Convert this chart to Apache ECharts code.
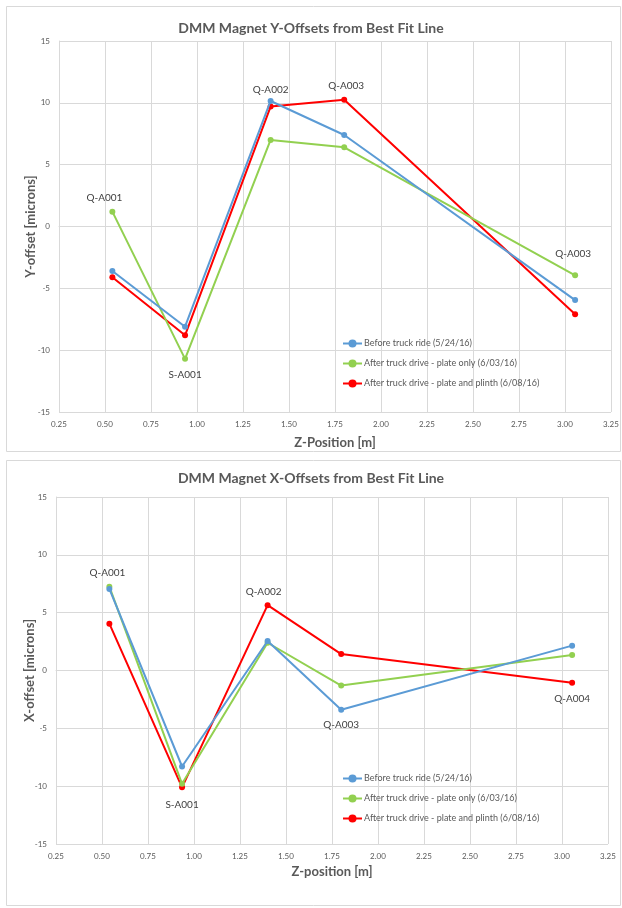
<!DOCTYPE html>
<html><head><meta charset="utf-8">
<script src="https://cdn.jsdelivr.net/npm/echarts@6/dist/echarts.min.js"></script>
<style>html,body{margin:0;padding:0;background:#fff}#c{width:622px;height:908px}</style>
</head><body><div id="c"></div>
<script>
// ---- data ----
const zPos = [0.54, 0.935, 1.40, 1.80, 3.055];
const seriesNames = ['Before truck ride (5/24/16)', 'After truck drive - plate only (6/03/16)', 'After truck drive - plate and plinth (6/08/16)'];
const yBefore = [-3.6, -8.1, 10.15, 7.4, -5.95];
const yPlate = [1.2, -10.7, 7.0, 6.4, -3.95];
const yPlinth = [-4.1, -8.8, 9.7, 10.25, -7.1];
const xBefore = [7.05, -8.3, 2.55, -3.4, 2.15];
const xPlate = [7.25, -9.8, 2.4, -1.3, 1.35];
const xPlinth = [4.05, -10.1, 5.65, 1.42, -1.05];
const yMagnetLabels = ['Q-A001', 'S-A001', 'Q-A002', 'Q-A003', 'Q-A003'];
const xMagnetLabels = ['Q-A001', 'S-A001', 'Q-A002', 'Q-A003', 'Q-A004'];
const xTicks = { min: 0.25, max: 3.25, step: 0.25 };
const yTicks = { min: -15, max: 15, step: 5 };

// ---- styling / annotation placement ----
const colors = ['#5B9BD5', '#92D050', '#FF0000'];
const FONT = 'Lato';
const TXT = '#595959';
// which series carries each magnet label: [seriesIndex, position, distance, dx]
const yLabelPlace = [[1, 'top', 6, -8], [1, 'bottom', 8, 0], [0, 'top', 3, 0], [2, 'top', 6, 2], [1, 'top', 14, -2]];
const xLabelPlace = [[1, 'top', 6, -2], [2, 'bottom', 9, 0], [2, 'top', 5, -4], [0, 'bottom', 7, 0], [2, 'bottom', 8, 0]];

function buildSeries(valsList, labels, place, gi) {
  return valsList.map((vals, si) => ({
    name: seriesNames[si], type: 'line', xAxisIndex: gi, yAxisIndex: gi,
    symbol: 'circle', symbolSize: 6, color: colors[si],
    lineStyle: { width: 2, color: colors[si] },
    itemStyle: { color: colors[si] },
    z: 3 - si + 2,
    data: vals.map((v, i) => {
      const p = place[i];
      const item = { value: [zPos[i], v] };
      if (p[0] === si) {
        item.label = { show: true, position: p[1], distance: p[2], offset: [p[3], 0],
          formatter: labels[i], color: '#404040', fontSize: 10, fontFamily: FONT };
      }
      return item;
    })
  }));
}

function xAx(gi, name, gap) {
  return { gridIndex: gi, type: 'value', min: xTicks.min, max: xTicks.max, interval: xTicks.step,
    name: name, nameLocation: 'middle', nameGap: gap,
    nameTextStyle: { fontFamily: FONT, fontSize: 13, fontWeight: 'bold', color: TXT },
    axisLine: { show: true, lineStyle: { color: '#D9D9D9' } }, axisTick: { show: false },
    axisLabel: { formatter: v => v.toFixed(2), fontFamily: FONT, fontSize: 8, color: TXT, margin: 8 },
    splitLine: { show: true, lineStyle: { color: '#D9D9D9', width: 1 } } };
}
function yAx(gi, name, gap) {
  return { gridIndex: gi, type: 'value', min: yTicks.min, max: yTicks.max, interval: yTicks.step,
    name: name, nameLocation: 'middle', nameGap: gap, nameRotate: 90, nameMoveOverlap: false,
    nameTextStyle: { fontFamily: FONT, fontSize: 13, fontWeight: 'bold', color: TXT },
    axisLine: { show: true, lineStyle: { color: '#D9D9D9' } }, axisTick: { show: false },
    axisLabel: { fontFamily: FONT, fontSize: 8, color: TXT, margin: 9 },
    splitLine: { show: true, lineStyle: { color: '#D9D9D9', width: 1 } } };
}
function legend(top) {
  return { orient: 'vertical', left: 337, top: top, itemWidth: 19, itemHeight: 10, itemGap: 11,
    data: seriesNames, textStyle: { fontFamily: FONT, fontSize: 9, color: TXT, padding: [0, 0, 0, -3] }, selectedMode: false };
}

const chart = echarts.init(document.getElementById('c'), null, { renderer: 'canvas' });
chart.setOption({
  animation: false,
  backgroundColor: '#fff',
  graphic: [
    { type: 'rect', shape: { x: 6.5, y: 6.5, width: 614, height: 445 }, style: { fill: 'none', stroke: '#D9D9D9', lineWidth: 1 }, silent: true },
    { type: 'rect', shape: { x: 6.5, y: 460.5, width: 614, height: 445 }, style: { fill: 'none', stroke: '#D9D9D9', lineWidth: 1 }, silent: true }
  ],
  title: [
    { text: 'DMM Magnet Y-Offsets from Best Fit Line', left: 'center', top: 16,
      textStyle: { fontFamily: FONT, fontSize: 14, fontWeight: 'bold', color: TXT } },
    { text: 'DMM Magnet X-Offsets from Best Fit Line', left: 'center', top: 466,
      textStyle: { fontFamily: FONT, fontSize: 14, fontWeight: 'bold', color: TXT } }
  ],
  legend: [legend(334), legend(769)],
  grid: [
    { left: 59, top: 41, width: 552, height: 371 },
    { left: 56, top: 497, width: 552, height: 347 }
  ],
  xAxis: [xAx(0, 'Z-Position [m]', 24), xAx(1, 'Z-position [m]', 21)],
  yAxis: [yAx(0, 'Y-offset [microns]', 22), yAx(1, 'X-offset [microns]', 20)],
  series: [].concat(
    buildSeries([yBefore, yPlate, yPlinth], yMagnetLabels, yLabelPlace, 0),
    buildSeries([xBefore, xPlate, xPlinth], xMagnetLabels, xLabelPlace, 1)
  )
});
</script></body></html>
